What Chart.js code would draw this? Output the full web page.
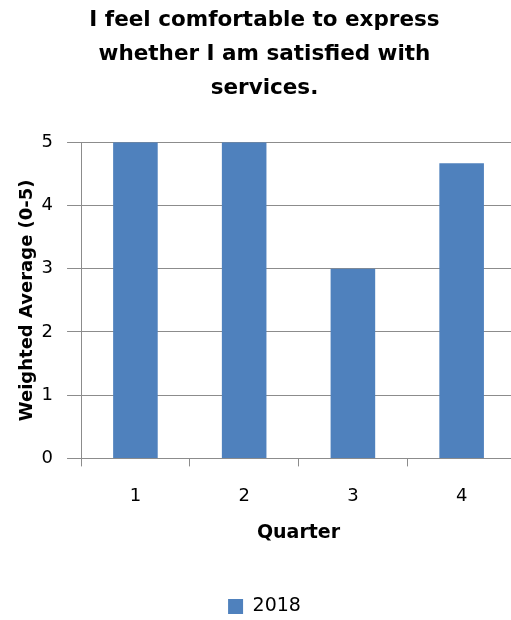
<!DOCTYPE html>
<html>
<head>
<meta charset="utf-8">
<script src="https://cdn.jsdelivr.net/npm/chart.js"></script>
<style>
  html, body { margin: 0; padding: 0; background: #fff; overflow: hidden; }
  #wrap { width: 516px; height: 620px; }
</style>
</head>
<body>
<div id="wrap"><canvas id="grafico"></canvas></div>
<script>
const quarters = ['1', '2', '3', '4'];
const values2018 = [5, 5, 3, 4.67];
const titleLines = ['I feel comfortable to express', 'whether I am satisfied with', 'services.'];

const fonte = "'DejaVu Sans', sans-serif";
const cinza = '#8c8c8c';

new Chart(document.getElementById('grafico'), {
  type: 'bar',
  data: {
    labels: quarters,
    datasets: [{
      label: '2018',
      data: values2018,
      backgroundColor: '#4f81bd',
      categoryPercentage: 0.41,
      barPercentage: 1
    }]
  },
  options: {
    responsive: true,
    maintainAspectRatio: false,
    animation: false,
    layout: { padding: { top: 4, left: 13, right: 0, bottom: -6 } },
    plugins: {
      title: {
        display: true,
        text: titleLines,
        color: '#000',
        font: { family: fonte, size: 21.5, weight: 'bold', lineHeight: 1.57 },
        padding: { top: 0, bottom: 37 }
      },
      legend: {
        position: 'bottom',
        labels: {
          color: '#000',
          font: { family: fonte, size: 19 },
          boxWidth: 15,
          boxHeight: 15,
          padding: 52
        }
      },
      tooltip: { enabled: false }
    },
    scales: {
      x: {
        offset: true,
        grid: { drawOnChartArea: false, drawTicks: true, tickLength: 8, color: cinza, offset: true },
        border: { color: cinza, width: 1 },
        ticks: { color: '#000', font: { family: fonte, size: 18 }, padding: 19 },
        title: { display: true, text: 'Quarter', color: '#000', font: { family: fonte, size: 19, weight: 'bold', lineHeight: 1 }, padding: { top: -2, bottom: 2 } }
      },
      y: {
        min: 0,
        max: 5,
        ticks: { stepSize: 1, color: '#000', font: { family: fonte, size: 18 }, padding: 14 },
        grid: { color: cinza, tickLength: 14 },
        border: { color: cinza, width: 1 },
        title: { display: true, text: 'Weighted Average (0-5)', color: '#000', font: { family: fonte, size: 18, weight: 'bold' }, padding: { top: 4, bottom: -11 } }
      }
    }
  }
});
</script>
</body>
</html>
